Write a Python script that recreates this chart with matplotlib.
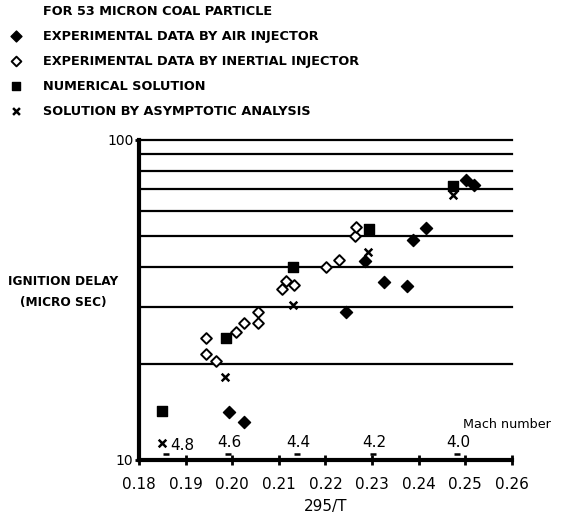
import matplotlib
matplotlib.use('Agg')
import matplotlib.pyplot as plt

# values (x = 295/T, y = ignition delay in micro sec)
air_x = [0.1993, 0.2026, 0.2244, 0.2284, 0.2326, 0.2376, 0.2387, 0.2416, 0.2502, 0.2519]
air_y = [14.1, 13.1, 28.9, 41.8, 36.0, 35.0, 48.6, 52.8, 74.7, 72.1]

inertial_x = [0.1944, 0.1944, 0.1965, 0.2008, 0.2026, 0.2056, 0.2056,
              0.2106, 0.2115, 0.2133, 0.2201, 0.2230, 0.2264, 0.2266]
inertial_y = [24.1, 21.4, 20.3, 25.0, 26.8, 26.8, 29.0,
              34.1, 36.2, 35.1, 39.9, 42.1, 50.0, 53.2]

numerical_x = [0.1849, 0.1986, 0.2131, 0.2294, 0.2473]
numerical_y = [14.2, 24.0, 39.9, 52.5, 71.6]

asymptotic_x = [0.1849, 0.1985, 0.2130, 0.2291, 0.2473]
asymptotic_y = [11.3, 18.1, 30.5, 44.5, 67.1]

mach_x = [0.1858, 0.1991, 0.2139, 0.2302, 0.2482]
mach_labels = ['4.8', '4.6', '4.4', '4.2', '4.0']

grid_levels = [20, 30, 40, 50, 60, 70, 80, 90, 100]
x_ticks = [0.18, 0.19, 0.20, 0.21, 0.22, 0.23, 0.24, 0.25, 0.26]

plt.rcParams['font.family'] = ['DejaVu Sans']

fig = plt.figure(figsize=(5.65, 5.2), dpi=100)
ax = fig.add_axes([0.246, 0.1154, 0.66, 0.6163])

ax.set_yscale('log')
ax.set_xlim(0.18, 0.26)
ax.set_ylim(10, 100)

for lvl in grid_levels:
    ax.axhline(lvl, color='black', lw=1.6, clip_on=False, zorder=1)

h_air = ax.scatter(air_x, air_y, marker='D', s=38, color='black', zorder=3)
h_in = ax.scatter(inertial_x, inertial_y, marker='D', s=30, facecolor='white',
                  edgecolor='black', linewidths=1.4, zorder=3)
h_num = ax.scatter(numerical_x, numerical_y, marker='s', s=50, color='black', zorder=3)
h_asy = ax.scatter(asymptotic_x, asymptotic_y, marker='x', s=30, color='black',
                   linewidths=1.8, zorder=3)

# mach number markers along the bottom
ax.scatter(mach_x, [10.45] * len(mach_x), marker='_', s=25, color='black',
           linewidths=1.8, zorder=3)
for mx, lab in zip(mach_x, mach_labels):
    dx = 12 if lab == '4.8' else 1
    dy = 6 if lab == '4.8' else 8
    ax.annotate(lab, (mx, 10.45), xytext=(dx, dy), textcoords='offset points',
                ha='center', va='center', fontsize=11)
ax.text(0.2495, 12.95, 'Mach number', fontsize=9.2, ha='left', va='center')

for side in ('top', 'right'):
    ax.spines[side].set_visible(False)
ax.spines['left'].set_linewidth(3)
ax.spines['bottom'].set_linewidth(3)

ax.set_xticks(x_ticks)
ax.set_xticklabels([f'{t:.2f}' for t in x_ticks])
ax.tick_params(axis='x', direction='inout', length=7, width=2, labelsize=11, pad=9)
ax.set_yticks([10, 100])
ax.set_yticklabels(['10', '100'])
ax.yaxis.set_minor_locator(matplotlib.ticker.NullLocator())
ax.tick_params(axis='y', direction='out', length=3, width=2, labelsize=10, pad=1)
ax.set_xlabel('295/T', fontsize=11, labelpad=5)

fig.text(0.1115, 0.438, 'IGNITION DELAY\n(MICRO SEC)', ha='center', va='center',
         fontsize=8.7, fontweight='bold', linespacing=1.8)

fig.text(0.076, 0.977, 'FOR 53 MICRON COAL PARTICLE', ha='left', va='center',
         fontsize=9.3, fontweight='bold')
fig.legend([h_air, h_in, h_num, h_asy],
           ['EXPERIMENTAL DATA BY AIR INJECTOR',
            'EXPERIMENTAL DATA BY INERTIAL INJECTOR',
            'NUMERICAL SOLUTION',
            'SOLUTION BY ASYMPTOTIC ANALYSIS'],
           loc='upper left', bbox_to_anchor=(0.007, 0.953), frameon=False,
           prop={'size': 9.3, 'weight': 'bold'}, handlelength=1.0,
           handletextpad=1.6, labelspacing=0.93, borderaxespad=0, markerscale=0.9)

fig.savefig('out.png', dpi=100)
